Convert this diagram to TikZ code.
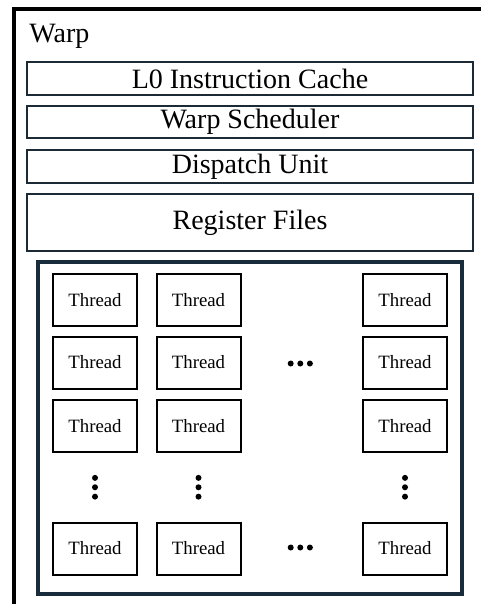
\documentclass[tikz,border=0pt]{standalone}
\usepackage{fontspec}
\setmainfont{Liberation Serif}
\usepackage{xcolor}
\usetikzlibrary{positioning, calc}

\definecolor{slate}{RGB}{28,42,54}
\definecolor{frameblue}{RGB}{24,44,60}

\tikzset{
  unit/.style={draw=slate, line width=1pt, minimum width=223pt, inner sep=0pt, font=\fontsize{14}{16}\selectfont},
  threadbox/.style={draw=black, line width=1pt, minimum width=42pt, minimum height=26pt, inner sep=0pt, font=\fontsize{9.4}{11}\selectfont},
  group/.style={draw=frameblue, line width=2pt, minimum width=212pt, minimum height=166pt, inner sep=0pt},
  dot/.style={fill=black}
}

\begin{document}
\begin{tikzpicture}[x=0.5pt, y=-0.5pt]
                \useasboundingbox (0,0) rectangle (481,604);
                \clip (0,0) rectangle (481,604);

                % outer warp frame
                \draw[line width=2pt] (14,620) -- (14,9) -- (500,9);
                \node[anchor=base west, inner sep=0pt, font=\fontsize{14}{16}\selectfont] (warp) at (29,43) {Warp};

                \node[unit, minimum height=16.5pt] (cache) at (250,78.5) {L0 Instruction Cache};
                \node[unit, minimum height=16pt] (sched) at (250,122) {Warp Scheduler};
                \node[unit, minimum height=16.5pt] (dispatch) at (250,166.5) {Dispatch Unit};
                \node[unit, minimum height=28.5pt] (regs) at (250,222.5) {Register Files};

                % thread array
                \node[group] (threads) at (250,428) {};

                \node[threadbox] (t11) at (95,300) {Thread};
                \node[threadbox] (t12) at (198.5,300) {Thread};
                \node[threadbox] (t1n) at (405,300) {Thread};

                \node[threadbox] (t21) at (95,362.5) {Thread};
                \node[threadbox] (t22) at (198.5,362.5) {Thread};
                \node[threadbox] (t2n) at (405,362.5) {Thread};

                \node[threadbox] (t31) at (95,426) {Thread};
                \node[threadbox] (t32) at (198.5,426) {Thread};
                \node[threadbox] (t3n) at (405,426) {Thread};

                \node[threadbox] (tm1) at (95,548.5) {Thread};
                \node[threadbox] (tm2) at (198.5,548.5) {Thread};
                \node[threadbox] (tmn) at (405,548.5) {Thread};

                % dots
                \coordinate (h2) at (300.3,363.5);
                \coordinate (hm) at (300.3,547.5);
                \coordinate (v1) at ($(t31)!0.5!(tm1)$);
                \coordinate (v2) at ($(t32)!0.5!(tm2)$);
                \coordinate (vn) at ($(t3n)!0.5!(tmn)$);

                \fill[dot] ([xshift=-4.8pt]h2) circle (1.5pt) (h2) circle (1.5pt) ([xshift=4.8pt]h2) circle (1.5pt);
                \fill[dot] ([xshift=-4.8pt]hm) circle (1.5pt) (hm) circle (1.5pt) ([xshift=4.8pt]hm) circle (1.5pt);
                \fill[dot] ([yshift=4.7pt]v1) circle (1.5pt) (v1) circle (1.5pt) ([yshift=-4.7pt]v1) circle (1.5pt);
                \fill[dot] ([yshift=4.7pt]v2) circle (1.5pt) (v2) circle (1.5pt) ([yshift=-4.7pt]v2) circle (1.5pt);
                \fill[dot] ([yshift=4.7pt]vn) circle (1.5pt) (vn) circle (1.5pt) ([yshift=-4.7pt]vn) circle (1.5pt);
            \end{tikzpicture}
\end{document}
